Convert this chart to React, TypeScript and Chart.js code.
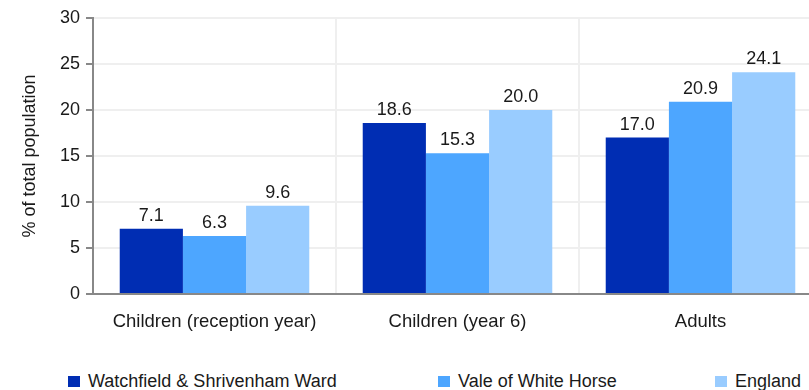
import React, { useEffect, useRef } from 'react';
import { Chart, registerables } from 'chart.js';

Chart.register(...registerables);

const categories = ['Children (reception year)', 'Children (year 6)', 'Adults'];
const seriesNames = ['Watchfield & Shrivenham Ward', 'Vale of White Horse', 'England'];
const wardValues = [7.1, 18.6, 17.0];
const valeValues = [6.3, 15.3, 20.9];
const englandValues = [9.6, 20.0, 24.1];
const seriesColors = ['#002db3', '#4da6ff', '#99ccff'];
const yTicks = [0, 5, 10, 15, 20, 25, 30];
const yTitle = '% of total population';

const FONT = '"Liberation Sans", Arial, sans-serif';
const TEXT = '#1a1a1a';
const CANVAS_W = 822;
const CANVAS_H = 345;
const LEGEND_LEFTS = [68, 438, 715];

const valueLabels = {
  id: 'valueLabels',
  afterDatasetsDraw(chart: any) {
    const ctx = chart.ctx;
    ctx.save();
    ctx.font = `18px ${FONT}`;
    ctx.fillStyle = TEXT;
    ctx.textAlign = 'center';
    ctx.textBaseline = 'alphabetic';
    chart.data.datasets.forEach((ds: any, i: number) => {
      const meta = chart.getDatasetMeta(i);
      meta.data.forEach((bar: any, j: number) => {
        ctx.fillText(Number(ds.data[j]).toFixed(1), bar.x, bar.y - 8);
      });
    });
    ctx.restore();
  },
};

export default function App() {
  const ref = useRef<HTMLCanvasElement | null>(null);

  useEffect(() => {
    if (!ref.current) return;
    const seriesData = [wardValues, valeValues, englandValues];
    const chart = new Chart(ref.current, {
      type: 'bar',
      data: {
        labels: categories,
        datasets: seriesNames.map((name, i) => ({
          label: name,
          data: seriesData[i],
          backgroundColor: seriesColors[i],
          borderWidth: 0,
          categoryPercentage: 0.78,
          barPercentage: 1.0,
        })),
      },
      options: {
        responsive: false,
        animation: false,
        devicePixelRatio: 1,
        layout: { padding: { top: 18, right: 0, bottom: 0, left: 0 } },
        plugins: {
          legend: { display: false },
          tooltip: { enabled: false },
        },
        scales: {
          x: {
            ticks: { font: { size: 18.5, family: FONT }, color: TEXT, padding: 17 },
            grid: { color: '#efefef', lineWidth: 2, drawTicks: false, offset: true },
            border: { color: '#888888', width: 2 },
            afterFit: (s: any) => {
              s.height = 51;
            },
          },
          y: {
            min: 0,
            max: 30,
            afterBuildTicks: (s: any) => {
              s.ticks = yTicks.map((v) => ({ value: v }));
            },
            ticks: { font: { size: 18, family: FONT }, color: TEXT, padding: 6 },
            grid: { color: '#efefef', lineWidth: 2, tickColor: '#888888', tickLength: 7 },
            border: { color: '#888888', width: 2 },
            title: {
              display: true,
              text: yTitle,
              font: { size: 18, family: FONT },
              color: TEXT,
              padding: { top: 19, bottom: 0 },
            },
            afterFit: (s: any) => {
              s.width = 93;
            },
          },
        },
      },
      plugins: [valueLabels],
    });
    return () => chart.destroy();
  }, []);

  return (
    <div
      style={{
        position: 'fixed',
        left: 0,
        top: 0,
        width: 809,
        height: 390,
        overflow: 'hidden',
        background: '#fff',
        fontFamily: FONT,
      }}
    >
      <canvas ref={ref} width={CANVAS_W} height={CANVAS_H} style={{ display: 'block' }} />
      {seriesNames.map((name, i) => (
        <div
          key={name}
          style={{
            position: 'absolute',
            left: LEGEND_LEFTS[i],
            top: 370,
            height: 22,
            display: 'flex',
            alignItems: 'center',
            whiteSpace: 'nowrap',
            fontSize: 18,
            color: TEXT,
          }}
        >
          <span
            style={{
              display: 'inline-block',
              width: 12,
              height: 11,
              background: seriesColors[i],
              marginRight: 8,
            }}
          />
          <span>{name}</span>
        </div>
      ))}
    </div>
  );
}
